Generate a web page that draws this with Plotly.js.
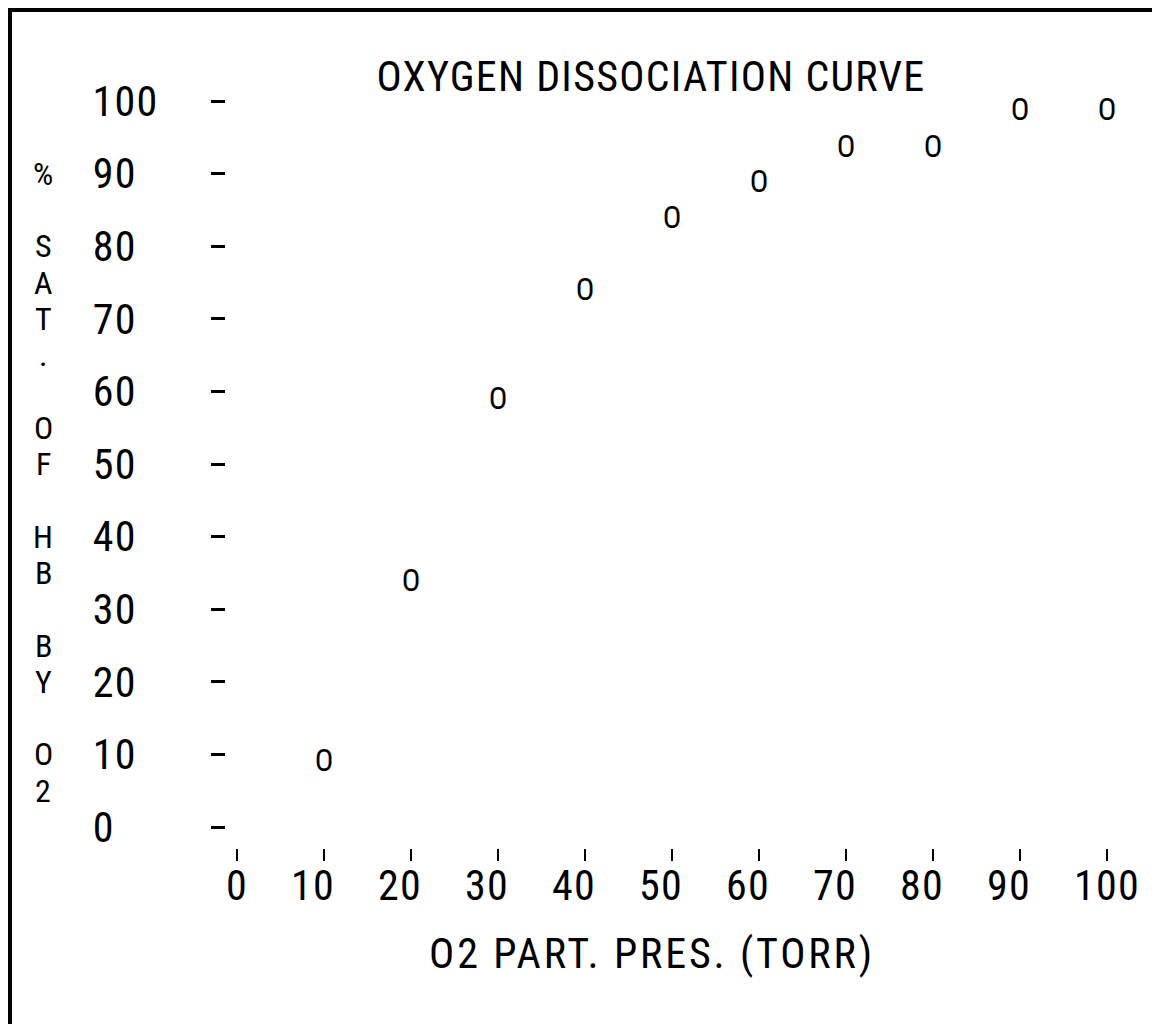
<!DOCTYPE html>
<html>
<head>
<meta charset="utf-8">
<script src="https://cdn.plot.ly/plotly-3.0.1.min.js"></script>
<style>
  html, body { margin: 0; padding: 0; background: #ffffff; }
  #chart { width: 1152px; height: 1024px; }
  .xtitle { transform: translateX(-20px); }
</style>
</head>
<body>
<div id="chart"></div>
<script>
// ---- data ----
const chartTitle = 'OXYGEN DISSOCIATION CURVE';
const xAxisTitle = 'O2 PART. PRES. (TORR)';
const yAxisTitle = '% SAT. OF HB BY O2';
const pressure = [10, 20, 30, 40, 50, 60, 70, 80, 90, 100];                      // O2 partial pressure (torr)
const saturation = [8.8, 33.6, 58.7, 73.6, 83.6, 88.5, 93.4, 93.4, 98.5, 98.5];  // % saturation of Hb (centre of each printed mark)
const xTickValues = [0, 10, 20, 30, 40, 50, 60, 70, 80, 90, 100];
const yTickValues = [0, 10, 20, 30, 40, 50, 60, 70, 80, 90, 100];
const pointChar = 'O';

// ---- font choice: a narrow face, like the printer's tall narrow characters ----
function hasFont(name) {
  const c = document.createElement('canvas').getContext('2d');
  const t = 'OXYGEN 0123456789 DISSOCIATION';
  return ['monospace', 'serif'].some(b => {
    c.font = '72px ' + b; const w0 = c.measureText(t).width;
    c.font = "72px '" + name + "', " + b; return Math.abs(c.measureText(t).width - w0) > 0.5;
  });
}
const candidates = ['Noto Sans ExtraCondensed', 'Noto Sans Condensed', 'Liberation Sans Narrow', 'Roboto Condensed', 'DejaVu Sans Condensed'];
const chosen = candidates.find(hasFont) || 'DejaVu Sans';
const FONT = "'" + chosen + "', 'DejaVu Sans Condensed', sans-serif";
const ctx = document.createElement('canvas').getContext('2d');
ctx.font = "100px " + FONT;
const adv = ctx.measureText('0000000000').width / 1000;       // digit advance in em
const FS = Math.min(42, 21.5 / adv);                            // main text size
const LS = Math.max(0, 22 - adv * FS);                          // letter spacing -> 22px pitch
const st = document.createElement('style');
st.textContent = '.xtick text, .ytick text, .xtitle, .gtitle { letter-spacing: ' + LS.toFixed(2) + 'px; } ' +
                 '.xtitle { letter-spacing: ' + (LS + 1.6).toFixed(2) + 'px; }';
document.head.appendChild(st);

// ---- layout helpers (pixel -> paper) ----
const W = 1152, H = 1024;
const px = v => v / W;
const py = v => 1 - v / H;
const FIG = '\u2007'; // figure space, same width as a digit

// printer-style labels: 3-character fields
const xTickText = xTickValues.map(v => { const s = String(v); return s.length === 2 ? s + FIG : s; });
const yTickText = yTickValues.map(v => { const s = String(v); return s + FIG.repeat(3 - s.length); });

// vertical stacked y title: one character per printed row (row = 5 units)
const yTitleAnnotations = [];
Array.from(yAxisTitle).forEach((ch, i) => {
  if (ch === ' ') return;
  yTitleAnnotations.push({
    text: ch, xref: 'paper', yref: 'y', x: px(43), y: 90 - 5 * i,
    xanchor: 'center', yanchor: 'middle', showarrow: false,
    font: { family: FONT, size: Math.round(FS * 0.76), color: '#000' }
  });
});

const trace = {
  type: 'scatter',
  mode: 'text',
  x: pressure,
  y: saturation,
  text: pressure.map(() => pointChar),
  textposition: 'middle center',
  textfont: { family: FONT, size: Math.round(FS * 0.74), color: '#000' },
  cliponaxis: false,
  hoverinfo: 'x+y'
};

const layout = {
  width: W, height: H,
  margin: { l: 0, r: 0, t: 0, b: 0 },
  paper_bgcolor: '#ffffff',
  plot_bgcolor: 'rgba(0,0,0,0)',
  showlegend: false,
  font: { family: FONT, size: FS, color: '#000' },
  title: {
    text: chartTitle, xref: 'container', yref: 'container',
    x: px(651), y: py(76), xanchor: 'center', yanchor: 'middle',
    font: { family: FONT, size: FS, color: '#000' }
  },
  xaxis: {
    range: [0, 100], domain: [px(237), px(1107)],
    anchor: 'free', position: py(848),
    tickmode: 'array', tickvals: xTickValues, ticktext: xTickText,
    ticks: 'outside', ticklen: 12, tickwidth: 2, tickcolor: '#000',
    ticklabelstandoff: -11,
    tickfont: { family: FONT, size: FS, color: '#000' },
    showgrid: false, zeroline: false, showline: false,
    title: { text: xAxisTitle, standoff: 29, font: { family: FONT, size: FS, color: '#000' } }
  },
  yaxis: {
    range: [0, 100], domain: [py(827), py(101)],
    anchor: 'free', position: px(225),
    tickmode: 'array', tickvals: yTickValues, ticktext: yTickText,
    ticks: 'outside', ticklen: 14, tickwidth: 3, tickcolor: '#000',
    ticklabelstandoff: Math.round(43 + (2 - LS)),
    tickfont: { family: FONT, size: FS, color: '#000' },
    showgrid: false, zeroline: false, showline: false
  },
  annotations: yTitleAnnotations,
  shapes: [{
    type: 'path', xref: 'paper', yref: 'paper', layer: 'above',
    path: 'M ' + px(10) + ' ' + py(1030) + ' L ' + px(10) + ' ' + py(10) + ' L ' + px(1160) + ' ' + py(10),
    line: { color: '#000', width: 4 }
  }]
};

Plotly.newPlot('chart', [trace], layout, { displayModeBar: false, staticPlot: true });
</script>
</body>
</html>
